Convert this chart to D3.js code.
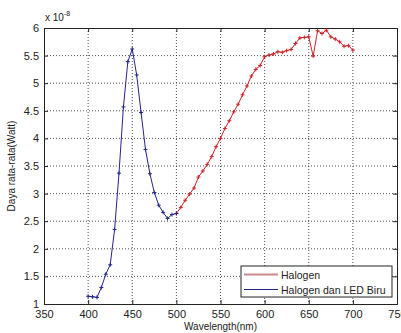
<!DOCTYPE html>
<meta charset="utf-8">
<script src="https://d3js.org/d3.v7.min.js"></script>
<style>
body { margin: 0; background: #fff; }
text { font-family: "Liberation Sans", Arial, sans-serif; font-size: 10px; fill: #222; }
.grid line { stroke: #222; stroke-dasharray: 1,2; stroke-width: 0.8; }
</style>
<body>
<div id="canvas"></div>
<script>
// data (daya dalam satuan 1e-8 Watt)
var wlBlue = [400, 405, 410, 415, 420, 425, 430, 435, 440, 445, 450, 455, 460, 465, 470, 475, 480, 485, 490, 495, 500];
var powBlue = [1.14, 1.13, 1.12, 1.30, 1.54, 1.71, 2.35, 3.37, 4.57, 5.39, 5.62, 5.15, 4.47, 3.80, 3.36, 3.02, 2.79, 2.66, 2.55, 2.62, 2.64];
var wlRed = [500, 505, 510, 515, 520, 525, 530, 535, 540, 545, 550, 555, 560, 565, 570, 575, 580, 585, 590, 595, 600,
             605, 610, 615, 620, 625, 630, 635, 640, 645, 650, 655, 660, 665, 670, 675, 680, 685, 690, 695, 700];
var powRed = [2.64, 2.75, 2.88, 2.99, 3.10, 3.30, 3.41, 3.53, 3.67, 3.85, 4.00, 4.18, 4.32, 4.48, 4.62, 4.79, 4.95, 5.13, 5.25, 5.32, 5.48,
              5.51, 5.53, 5.57, 5.56, 5.59, 5.61, 5.72, 5.82, 5.83, 5.84, 5.49, 5.95, 5.90, 5.96, 5.84, 5.80, 5.75, 5.67, 5.68, 5.60];
var xTicks = [350, 400, 450, 500, 550, 600, 650, 700, 750];
var yTicks = [1, 1.5, 2, 2.5, 3, 3.5, 4, 4.5, 5, 5.5, 6];
var seriesNames = ["Halogen", "Halogen dan LED Biru"];
var seriesColors = ["#cc2229", "#25258a"];

var width = 401, height = 333;
var margin = {top: 28, right: 4, bottom: 29, left: 44};
var w = width - margin.left - margin.right;
var h = height - margin.top - margin.bottom;

var svg = d3.select("#canvas").append("svg")
    .attr("width", width).attr("height", height);

var g = svg.append("g")
    .attr("transform", "translate(" + margin.left + "," + margin.top + ")");

var x = d3.scaleLinear().domain([350, 750]).range([0, w]);
var y = d3.scaleLinear().domain([1, 6]).range([h, 0]);

// grid titik-titik
g.append("g").attr("class", "grid")
  .selectAll("line").data(xTicks.slice(1, -1)).enter().append("line")
    .attr("x1", d => x(d)).attr("x2", d => x(d))
    .attr("y1", 0).attr("y2", h);
g.append("g").attr("class", "grid")
  .selectAll("line").data(yTicks.slice(1, -1)).enter().append("line")
    .attr("y1", d => y(d)).attr("y2", d => y(d))
    .attr("x1", 0).attr("x2", w);

// eixos estilo matlab (ticks pra dentro)
var xAxis = g.append("g").attr("transform", "translate(0," + h + ")")
    .call(d3.axisBottom(x).tickValues(xTicks).tickSize(-4).tickPadding(6));
var xTop = g.append("g")
    .call(d3.axisTop(x).tickValues(xTicks).tickSize(-4).tickFormat(""));
var yAxis = g.append("g")
    .call(d3.axisLeft(y).tickValues(yTicks).tickSize(-4).tickPadding(5).tickFormat(d3.format("")));
var yRight = g.append("g").attr("transform", "translate(" + w + ",0)")
    .call(d3.axisRight(y).tickValues(yTicks).tickSize(-4).tickFormat(""));
[xAxis, xTop, yAxis, yRight].forEach(function(a) {
  a.selectAll(".domain").attr("stroke", "#222");
  a.selectAll(".tick line").attr("stroke", "#222");
  a.selectAll("text").attr("fill", "#222").style("font-size", "11px")
    .style("font-family", "'Liberation Sans', Arial, sans-serif");
});

// series
var line = d3.line().x(d => x(d[0])).y(d => y(d[1]));
var series = [
  {name: seriesNames[0], color: seriesColors[0], pts: d3.zip(wlRed, powRed)},
  {name: seriesNames[1], color: seriesColors[1], pts: d3.zip(wlBlue, powBlue)}
];
series.forEach(function(s) {
  g.append("path").datum(s.pts)
    .attr("fill", "none").attr("stroke", s.color).attr("stroke-width", 1)
    .attr("d", line);
  g.selectAll(null).data(s.pts).enter().append("path")
    .attr("transform", d => "translate(" + x(d[0]) + "," + y(d[1]) + ")")
    .attr("d", "M-2,0H2M0,-2V2")
    .attr("stroke", s.color).attr("stroke-width", 1);
});

// fator de escala
var sc = svg.append("text").attr("x", 45).attr("y", 21).style("font-size", "10px");
sc.append("tspan").text("x 10");
sc.append("tspan").attr("dy", -5).style("font-size", "7px").text("-8");

// rótulos
svg.append("text").attr("x", margin.left + w / 2).attr("y", 330)
  .attr("text-anchor", "middle").style("font-size", "10px").text("Wavelength(nm)");
svg.append("text")
  .attr("transform", "translate(15," + (margin.top + h / 2) + ") rotate(-90)")
  .attr("text-anchor", "middle").style("font-size", "10px").text("Daya rata-rata(Watt)");

// legenda
var lg = svg.append("g").attr("transform", "translate(241,266)");
lg.append("rect").attr("width", 151).attr("height", 31)
  .attr("fill", "#fff").attr("stroke", "#222").attr("stroke-width", 1);
series.forEach(function(s, i) {
  var yy = 8.5 + i * 15;
  lg.append("line").attr("x1", 3).attr("x2", 37).attr("y1", yy).attr("y2", yy)
    .attr("stroke", i === 0 ? "#c98a8e" : s.color).attr("stroke-width", i === 0 ? 2 : 1);
  lg.append("text").attr("x", 40).attr("y", yy + 4).style("font-size", "10.5px").text(s.name);
});
</script>
</body>
